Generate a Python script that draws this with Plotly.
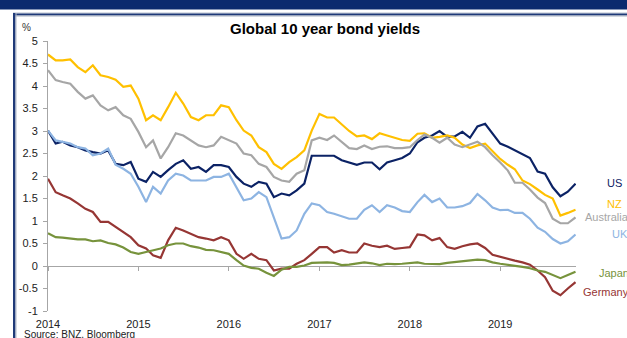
import pandas as pd
import plotly.graph_objects as go

# Monthly observations, Jan 2014 .. Nov 2019
dates = pd.date_range("2014-01-01", periods=71, freq="MS")

us = [3.01, 2.72, 2.76, 2.68, 2.64, 2.57, 2.53, 2.50, 2.57, 2.27, 2.24, 2.31,
      1.94, 1.87, 2.09, 1.98, 2.13, 2.27, 2.35, 2.16, 2.20, 2.09, 2.24, 2.24,
      2.20, 1.98, 1.83, 1.76, 1.87, 1.83, 1.53, 1.61, 1.57, 1.68, 1.83, 2.45,
      2.45, 2.45, 2.45, 2.35, 2.30, 2.25, 2.30, 2.30, 2.15, 2.30, 2.35, 2.40,
      2.50, 2.75, 2.85, 2.90, 3.00, 2.87, 2.88, 2.98, 2.85, 3.10, 3.16, 2.95,
      2.72, 2.65, 2.57, 2.50, 2.40, 2.10, 2.05, 1.75, 1.55, 1.65, 1.83]

nz = [4.70, 4.57, 4.57, 4.59, 4.42, 4.31, 4.46, 4.24, 4.20, 4.14, 3.98, 4.01,
      3.72, 3.24, 3.35, 3.24, 3.53, 3.85, 3.61, 3.31, 3.24, 3.35, 3.35, 3.57,
      3.53, 3.24, 3.01, 2.90, 2.64, 2.53, 2.27, 2.16, 2.31, 2.42, 2.57, 3.01,
      3.38, 3.30, 3.30, 3.15, 3.00, 2.88, 2.90, 2.82, 2.95, 2.90, 2.85, 2.80,
      2.78, 2.94, 2.95, 2.85, 2.87, 2.90, 2.85, 2.70, 2.62, 2.68, 2.72, 2.55,
      2.38, 2.25, 2.15, 1.90, 1.82, 1.70, 1.58, 1.50, 1.12, 1.18, 1.25]

australia = [4.35, 4.13, 4.09, 4.05, 3.87, 3.72, 3.79, 3.57, 3.46, 3.53, 3.35, 3.27,
             2.98, 2.64, 2.79, 2.39, 2.64, 2.95, 2.90, 2.79, 2.68, 2.64, 2.68, 2.87,
             2.79, 2.72, 2.50, 2.46, 2.27, 2.20, 1.98, 1.90, 1.87, 2.05, 2.13, 2.79,
             2.85, 2.80, 2.90, 2.75, 2.62, 2.60, 2.68, 2.60, 2.65, 2.66, 2.62, 2.62,
             2.64, 2.80, 2.92, 2.85, 2.74, 2.85, 2.70, 2.64, 2.70, 2.76, 2.64, 2.46,
             2.30, 2.12, 1.85, 1.85, 1.70, 1.52, 1.40, 1.05, 0.95, 0.95, 1.08]

uk = [3.01, 2.79, 2.76, 2.72, 2.64, 2.61, 2.46, 2.50, 2.61, 2.25, 2.16, 2.05,
      1.76, 1.42, 1.76, 1.61, 1.90, 2.05, 2.01, 1.90, 1.90, 1.90, 1.98, 1.98,
      2.05, 1.76, 1.46, 1.50, 1.64, 1.53, 1.09, 0.61, 0.64, 0.79, 1.16, 1.39,
      1.35, 1.20, 1.16, 1.10, 1.05, 1.05, 1.25, 1.35, 1.20, 1.35, 1.30, 1.22,
      1.20, 1.42, 1.58, 1.42, 1.50, 1.30, 1.30, 1.33, 1.40, 1.60, 1.46, 1.30,
      1.24, 1.25, 1.18, 1.18, 1.05, 0.85, 0.76, 0.60, 0.50, 0.55, 0.70]

japan = [0.73, 0.64, 0.63, 0.61, 0.59, 0.59, 0.55, 0.57, 0.51, 0.48, 0.41, 0.31,
         0.27, 0.31, 0.35, 0.39, 0.46, 0.50, 0.50, 0.44, 0.41, 0.36, 0.35, 0.31,
         0.27, 0.13, 0.01, -0.04, -0.06, -0.15, -0.22, -0.08, -0.02, -0.02, 0.01, 0.07,
         0.08, 0.08, 0.07, 0.02, 0.03, 0.06, 0.08, 0.06, 0.02, 0.05, 0.04, 0.05,
         0.07, 0.08, 0.05, 0.05, 0.04, 0.07, 0.09, 0.10, 0.12, 0.14, 0.13, 0.08,
         0.05, 0.03, 0.01, -0.02, -0.05, -0.10, -0.13, -0.20, -0.27, -0.20, -0.13]

germany = [1.94, 1.64, 1.57, 1.50, 1.39, 1.27, 1.20, 0.98, 0.98, 0.87, 0.76, 0.64,
           0.46, 0.39, 0.24, 0.18, 0.57, 0.85, 0.79, 0.72, 0.64, 0.61, 0.57, 0.64,
           0.57, 0.27, 0.16, 0.27, 0.16, 0.13, -0.10, -0.06, -0.06, 0.05, 0.13, 0.27,
           0.42, 0.42, 0.30, 0.35, 0.30, 0.30, 0.50, 0.45, 0.42, 0.45, 0.38, 0.40,
           0.42, 0.70, 0.68, 0.57, 0.62, 0.42, 0.38, 0.44, 0.48, 0.50, 0.40, 0.25,
           0.20, 0.15, 0.12, 0.08, 0.03, -0.10, -0.25, -0.55, -0.65, -0.50, -0.36]

series_names = ["US", "NZ", "Australia", "UK", "Japan", "Germany"]
series_values = [us, nz, australia, uk, japan, germany]
series_colors = ["#0B2265", "#FFC000", "#A6A6A6", "#8DB4E2", "#77933C", "#963634"]
# label anchor positions (pixels) for the right-hand series labels
label_px = [(605, 183), (605, 204), (583, 217), (610, 234), (597, 273), (581, 292)]

year_ticks = pd.date_range("2014-01-01", "2019-01-01", freq="YS")
year_labels = ["2014", "2015", "2016", "2017", "2018", "2019"]
y_ticks = [5, 4.5, 4, 3.5, 3, 2.5, 2, 1.5, 1, 0.5, 0, -0.5, -1]
y_labels = ["5", "4.5", "4", "3.5", "3", "2.5", "2", "1.5", "1", "0.5", "0", "-0.5", "-1"]

W, H = 627, 338
L, R, T, B = 48, 51, 41, 27
PW, PH = W - L - R, H - T - B


def px(x):
    return (x - L) / PW


def py(y):
    return (H - B - y) / PH


FONT = "Liberation Sans, Arial, sans-serif"

fig = go.Figure()
for name, vals, col in zip(series_names, series_values, series_colors):
    fig.add_trace(go.Scatter(
        x=dates, y=vals, name=name, mode="lines",
        line=dict(color=col, width=2.2),
        xaxis="x2" if name == "Japan" else "x",
        hoverinfo="skip", showlegend=False))

annotations = []
for name, col, (lx, ly) in zip(series_names, series_colors, label_px):
    annotations.append(dict(x=px(lx), y=py(ly), xref="paper", yref="paper",
                            text=name, showarrow=False, xanchor="left",
                            yanchor="middle",
                            font=dict(family=FONT, size=11, color=col)))

annotations += [
    dict(x=px(325), y=py(28), xref="paper", yref="paper",
         text="<b>Global 10 year bond yields</b>", showarrow=False,
         xanchor="center", yanchor="middle",
         font=dict(family=FONT, size=15, color="#000000")),
    dict(x=px(20), y=py(27), xref="paper", yref="paper", text="%",
         showarrow=False, xanchor="left", yanchor="middle",
         font=dict(family=FONT, size=10, color="#333333")),
    dict(x=px(22), y=py(334), xref="paper", yref="paper",
         text="Source: BNZ, Bloomberg", showarrow=False, xanchor="left",
         yanchor="middle", font=dict(family=FONT, size=10, color="#222222")),
]

navy = "#0B2A6E"
shapes = [
    dict(type="rect", xref="paper", yref="paper", x0=px(0), x1=px(W),
         y0=py(0), y1=py(9.5), fillcolor=navy, line=dict(width=0), layer="above"),
    dict(type="rect", xref="paper", yref="paper", x0=px(13), x1=px(W),
         y0=py(12.5), y1=py(13.5), fillcolor="#B8C0D0", line=dict(width=0)),
    dict(type="rect", xref="paper", yref="paper", x0=px(13), x1=px(W),
         y0=py(13.5), y1=py(15.5), fillcolor="#1F3A78", line=dict(width=0)),
    dict(type="rect", xref="paper", yref="paper", x0=px(13), x1=px(W),
         y0=py(15.5), y1=py(16.5), fillcolor="#A8B0C0", line=dict(width=0)),
    dict(type="rect", xref="paper", yref="paper", x0=px(13), x1=px(15.5),
         y0=py(13), y1=py(H), fillcolor="#1F3A78", line=dict(width=0)),
    dict(type="rect", xref="paper", yref="paper", x0=px(15.5), x1=px(16.5),
         y0=py(13), y1=py(H), fillcolor="#B0B8C8", line=dict(width=0)),
]

xr = ["2014-01-01", "2019-11-03"]
fig.update_layout(
    template="none",
    width=W, height=H, autosize=False,
    margin=dict(l=L, r=R, t=T, b=B, pad=0),
    paper_bgcolor="white", plot_bgcolor="white",
    showlegend=False,
    xaxis=dict(range=xr, type="date", tickvals=year_ticks, ticktext=year_labels,
               showgrid=False, zeroline=False, showline=False, ticks="",
               automargin=False, ticklabelstandoff=5,
               tickfont=dict(family=FONT, size=11, color="#222222")),
    xaxis2=dict(range=xr, type="date", overlaying="x", anchor="free",
                position=py(265.7), tickvals=year_ticks, showticklabels=False,
                showgrid=False, zeroline=False, showline=True, automargin=False,
                linecolor="#A6A6A6", linewidth=1, ticks="outside", ticklen=4,
                tickcolor="#A6A6A6", layer="below traces"),
    yaxis=dict(range=[-1, 5], tickvals=y_ticks, ticktext=y_labels,
               showgrid=False, zeroline=False, showline=True, automargin=False,
               linecolor="#A6A6A6", linewidth=1, ticks="outside", ticklen=4,
               tickcolor="#A6A6A6", ticklabelstandoff=3,
               tickfont=dict(family=FONT, size=11, color="#222222")),
    annotations=annotations, shapes=shapes,
)

fig.write_html("out.html")
